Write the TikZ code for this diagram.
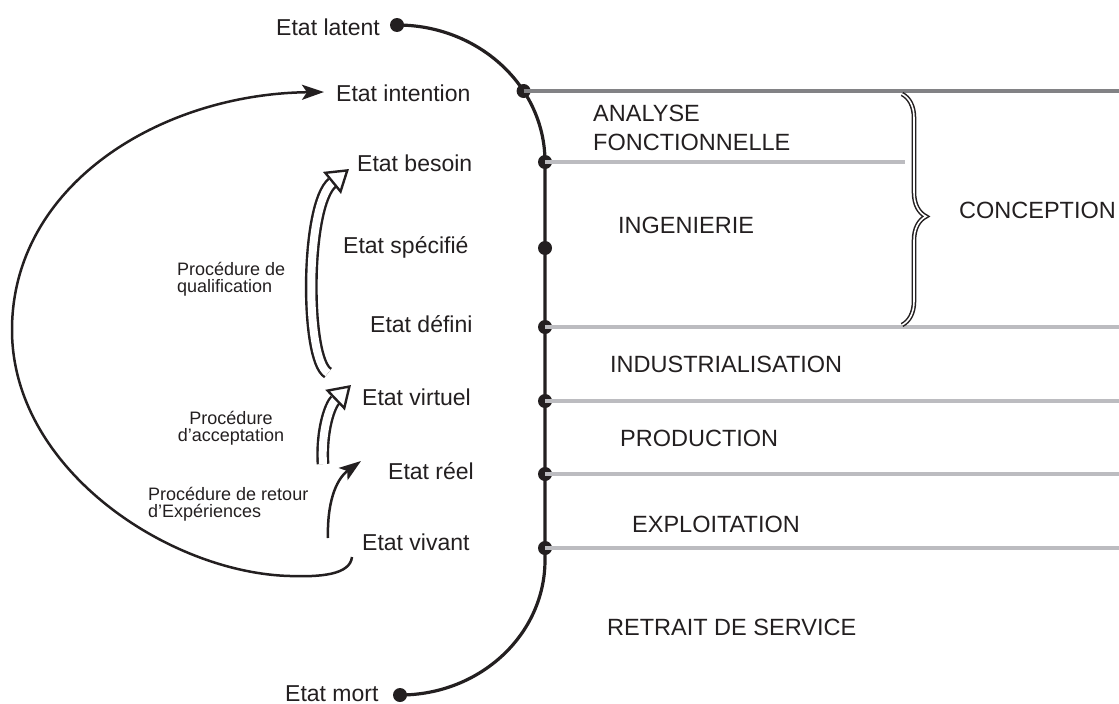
\documentclass[tikz,border=0pt]{standalone}
\usepackage{fontspec}
\setmainfont{Liberation Sans}
\usetikzlibrary{arrows.meta,decorations.pathreplacing,backgrounds,positioning}
\definecolor{ink}{RGB}{35,31,32}
\definecolor{rulegray}{RGB}{188,188,192}
\definecolor{rulegrayd}{RGB}{130,130,133}

\begin{document}
\begin{tikzpicture}[x=1pt, y=-1pt,
    dot/.style={circle, fill=ink, inner sep=0pt, minimum size=14pt},
    etat/.style={inner sep=0pt, text=ink, font=\fontsize{23}{28}\selectfont},
    phaselbl/.style={inner sep=0pt, text=ink, align=left, font=\fontsize{23.5}{29}\selectfont},
    proc/.style={inner sep=0pt, text=ink, font=\fontsize{18}{17}\selectfont},
    life/.style={draw=ink, line width=3.2pt},
    phase/.style={draw=rulegray, line width=3.6pt},
    loop/.style={draw=ink, line width=2.5pt, -{Stealth[length=22pt, width=15pt, inset=5pt]}},
    hollow/.style={draw=ink, line width=2.4pt, double=white, double distance=8pt,
        -{Triangle[open, length=22pt, width=28pt]}}]
    \useasboundingbox (0,0) rectangle (1119,704);
    \coordinate (rim) at (1119,0);
    \coordinate (bracex) at (905,0);

    \node[dot] (latent) at (397,25) {};
    \node[dot] (intention) at (523.6,91) {};
    \foreach \n/\y in {besoin/162, specifie/248, defini/327, virtuel/401, reel/474, vivant/548}
        \node[dot] (\n) at (545,\y) {};
    \node[dot] (mort) at (400,695) {};

    \begin{pgfonlayer}{background}
        \draw[life] (latent.center) arc[start angle=-90, end angle=0, x radius=148, y radius=137]
            -- ([yshift=-12pt]vivant.center) arc[start angle=0, end angle=90, x radius=145, y radius=135];
    \end{pgfonlayer}

    \draw[phase, draw=rulegrayd] (intention.center) -- (intention -| rim);
    \draw[phase] (besoin.center) -- (besoin -| bracex);
    \foreach \n in {defini, virtuel, reel, vivant}
        \draw[phase] (\n.center) -- (\n -| rim);

    \coordinate (bracetop) at (902,94);
    \coordinate (bracebot) at (902,325);
    \draw[ink, line width=1.5pt, double=white, double distance=1.6pt, decorate,
        decoration={brace, amplitude=24pt, aspect=0.53}] (bracetop) -- (bracebot);

    \node[etat, anchor=base east] (tlatent) at (380,35) {Etat latent};
    \foreach \n/\x/\y/\t in {intention/336/101/Etat intention, besoin/357/171/Etat besoin,
        specifie/343/253/Etat spécifié, defini/370/332/Etat défini, virtuel/362/405/Etat virtuel,
        reel/388/479/Etat réel, vivant/362/550/Etat vivant, mort/285/701/Etat mort}
        \node[etat, anchor=base west] (t\n) at (\x,\y) {\t};

    \node[phaselbl, anchor=west] (analyse) at (593,127.5) {ANALYSE\\FONCTIONNELLE};
    \node[phaselbl, anchor=west] (ingenierie) at (618,225) {INGENIERIE};
    \node[phaselbl, anchor=west] (industrie) at (610,364.5) {INDUSTRIALISATION};
    \node[phaselbl, anchor=west] (production) at (620,438.5) {PRODUCTION};
    \node[phaselbl, anchor=west] (exploitation) at (632,524.5) {EXPLOITATION};
    \node[phaselbl, anchor=west] (retrait) at (607,627.5) {RETRAIT DE SERVICE};
    \node[phaselbl, anchor=west] (conception) at (959,210) {CONCEPTION};

    \node[proc, align=left, anchor=west] (qualif) at (177,279) {Procédure de\\qualification};
    \node[proc, align=center] (accept) at (231,428) {Procédure\\d’acceptation};
    \node[proc, align=left, anchor=west] (retex) at (148,504) {Procédure de retour\\d’Expériences};

    \coordinate (loopstart) at (352,557);
    \coordinate (loopend) at (324,92);
    \draw[loop] (loopstart) .. controls (350,575) and (320,577) .. (290,576)
        .. controls (170,573) and (12,470) .. (12,330)
        .. controls (12,185) and (160,94) .. (loopend);

    \coordinate (qualfrom) at (328,373);
    \coordinate (qualto) at (349,169);
    \draw[hollow] (qualfrom) .. controls (305,360) and (305,205) .. (qualto);
    \coordinate (acceptfrom) at (323,464);
    \coordinate (acceptto) at (351,385);
    \draw[hollow] (acceptfrom) .. controls (321,430) and (330,405) .. (acceptto);
    \coordinate (retexfrom) at (328,538);
    \coordinate (retexto) at (361,461);
    \draw[loop] (retexfrom) .. controls (327,505) and (335,480) .. (retexto);
\end{tikzpicture}
\end{document}
